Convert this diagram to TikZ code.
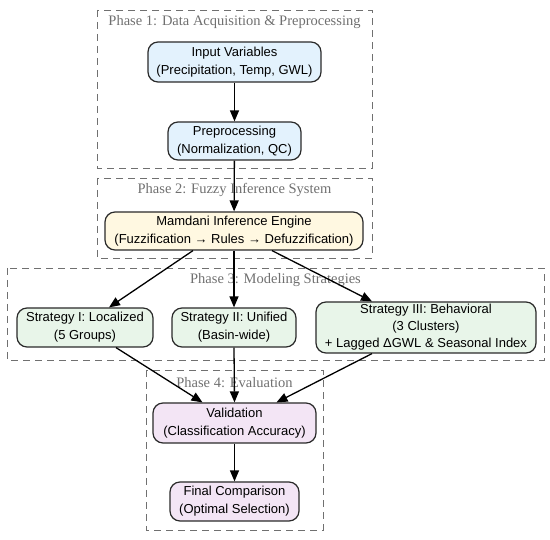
\documentclass[tikz,border=0pt]{standalone}
\usepackage{fontspec}
\setmainfont{Liberation Sans}
\newfontfamily\phasefont{Liberation Serif}
\usetikzlibrary{arrows.meta}
\definecolor{cblue}{HTML}{E3F2FD}
\definecolor{cyel}{HTML}{FFF8E1}
\definecolor{cgreen}{HTML}{E8F5E9}
\definecolor{cpurp}{HTML}{F3E5F5}
\definecolor{cedge}{HTML}{2A2A2A}
\definecolor{cphase}{HTML}{707070}
\tikzset{
  nbox/.style={draw=cedge, line width=1.2pt, rounded corners=10pt, inner sep=0pt,
    align=center, font=\fontsize{13}{18}\selectfont},
  phasebox/.style={draw=cphase, line width=0.9pt, dash pattern=on 7pt off 5pt},
  phaselabel/.style={text=cphase, font=\phasefont\fontsize{14.5}{16}\selectfont, inner sep=0pt},
  arr/.style={draw=black, line width=1.3pt, -{Stealth[length=11pt,width=9pt,inset=0pt]}}
}
\begin{document}
\begin{tikzpicture}[x=1pt,y=-1pt]
\useasboundingbox (0,0) rectangle (550,540);
% phase boxes
\draw[phasebox] (97,10) rectangle (372,168);
\node[phaselabel] (p1) at (234.5,22) {Phase 1: Data Acquisition \& Preprocessing};
\draw[phasebox] (97,178) rectangle (372,258);
\node[phaselabel] (p2) at (234.5,190) {Phase 2: Fuzzy Inference System};
\draw[phasebox] (7,268) rectangle (544,360);
\node[phaselabel] (p3) at (275.5,280) {Phase 3: Modeling Strategies};
\draw[phasebox] (146,370) rectangle (323,530);
\node[phaselabel] (p4) at (234.5,383) {Phase 4: Evaluation};
% nodes
\node[nbox, fill=cblue, minimum width=173pt, minimum height=40pt] (inp) at (234.5,62) {Input Variables\\(Precipitation, Temp, GWL)};
\node[nbox, fill=cblue, minimum width=133pt, minimum height=38pt] (pre) at (234.5,141) {Preprocessing\\(Normalization, QC)};
\node[nbox, fill=cyel, minimum width=258pt, minimum height=38pt] (mam) at (234,231) {Mamdani Inference Engine\\(Fuzzification → Rules → Defuzzification)};
\node[nbox, fill=cgreen, minimum width=136pt, minimum height=39pt] (s1) at (85,327.5) {Strategy I: Localized\\(5 Groups)};
\node[nbox, fill=cgreen, minimum width=124pt, minimum height=39pt] (s2) at (234,327.5) {Strategy II: Unified\\(Basin-wide)};
\node[nbox, fill=cgreen, minimum width=220pt, minimum height=51pt, font=\fontsize{13}{17}\selectfont] (s3) at (426,327.5) {Strategy III: Behavioral\\(3 Clusters)\\+ Lagged ΔGWL \& Seasonal Index};
\node[nbox, fill=cpurp, minimum width=163pt, minimum height=40pt] (val) at (234.5,423) {Validation\\(Classification Accuracy)};
\node[nbox, fill=cpurp, minimum width=129pt, minimum height=39pt] (fin) at (234.5,501.5) {Final Comparison\\(Optimal Selection)};
% arrows
\draw[arr] (inp) -- (pre);
\draw[arr] (pre) -- (mam);
\draw[arr] ([xshift=-41pt]mam.south) -- ([xshift=24pt]s1.north);
\draw[arr] (mam.south) -- (s2.north);
\draw[arr] ([xshift=38pt]mam.south) -- ([xshift=-54pt]s3.north);
\draw[arr] ([xshift=31pt]s1.south) -- ([xshift=-32pt]val.north);
\draw[arr] (s2.south) -- (val.north);
\draw[arr] ([xshift=-54pt]s3.south) -- ([xshift=42pt]val.north);
\draw[arr] (val) -- (fin);
\end{tikzpicture}
\end{document}
